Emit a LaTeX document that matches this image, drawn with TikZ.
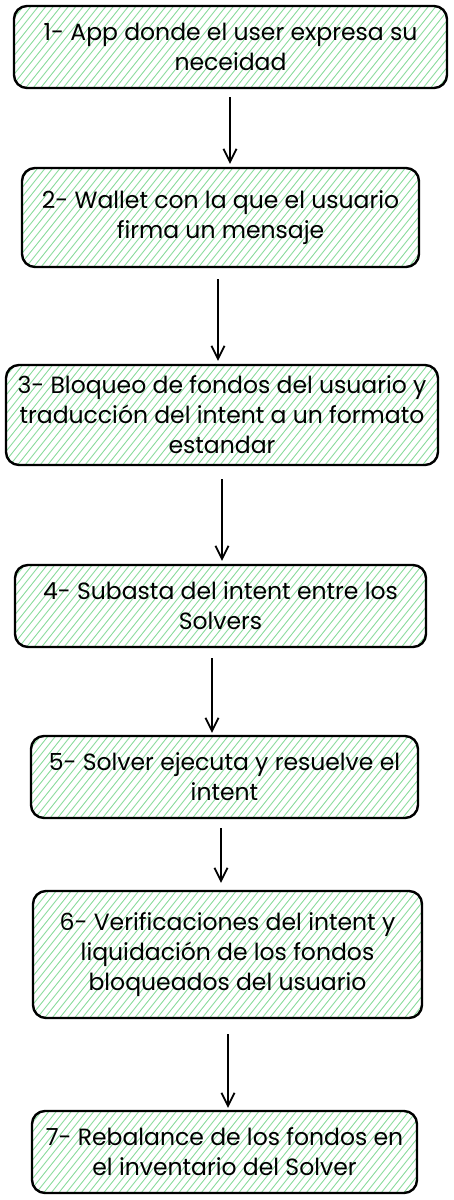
\documentclass[tikz,border=0pt]{standalone}
\usepackage{fontspec}
\setmainfont{Poppins}
\usetikzlibrary{arrows.meta,calc}
\definecolor{hatchgreen}{RGB}{140,220,158}
\tikzset{
  stepbox/.style={draw=black, line width=2.4pt, rounded corners=13pt, align=center,
    font=\fontsize{23.5}{30}\selectfont, inner sep=0pt,
    path picture={
      \foreach \i in {0,...,80}{
        \draw[hatchgreen, line width=0.9pt]
          ($(path picture bounding box.south west)+(-110pt+\i*7.5pt,-2pt)$) -- ++(112pt,140pt);
      }
    }},
  arr/.style={draw=black, line width=1.8pt, -{Straight Barb[length=13pt,width=13pt,line width=1.8pt]}}
}
\begin{document}
\begin{tikzpicture}[x=1pt,y=1pt]
\useasboundingbox (0,0) rectangle (454,-1200);
\node[stepbox, minimum width=433pt, minimum height=82pt] (b1) at (230.5,-47) {1- App donde el user expresa su\\neceidad};
\node[stepbox, minimum width=397pt, minimum height=99pt] (b2) at (220.5,-217.5) {2- Wallet con la que el usuario\\firma un mensaje};
\node[stepbox, minimum width=432pt, minimum height=100pt] (b3) at (222,-415) {3- Bloqueo de fondos del usuario y\\traducción del intent a un formato\\estandar};
\node[stepbox, minimum width=411pt, minimum height=82pt] (b4) at (220.5,-606) {4- Subasta del intent entre los\\Solvers};
\node[stepbox, minimum width=387pt, minimum height=82pt] (b5) at (224.5,-777) {5- Solver ejecuta y resuelve el\\intent};
\node[stepbox, minimum width=389pt, minimum height=127pt] (b6) at (227.5,-954.5) {6- Verificaciones del intent y\\liquidación de los fondos\\bloqueados del usuario};
\node[stepbox, minimum width=385pt, minimum height=82pt] (b7) at (224.5,-1152) {7- Rebalance de los fondos en\\el inventario del Solver};
\draw[arr] ([xshift=-0.5pt,yshift=-8pt]b1.south) -- ([xshift=9.5pt,yshift=3pt]b2.north);
\draw[arr] ([xshift=-2.5pt,yshift=-11pt]b2.south) -- ([xshift=-4pt,yshift=3pt]b3.north);
\draw[arr] ([xshift=0pt,yshift=-13pt]b3.south) -- ([xshift=1.5pt,yshift=3pt]b4.north);
\draw[arr] ([xshift=-8.5pt,yshift=-10pt]b4.south) -- ([xshift=-12.5pt,yshift=2pt]b5.north);
\draw[arr] ([xshift=-3.5pt,yshift=-9pt]b5.south) -- ([xshift=-6.5pt,yshift=7pt]b6.north);
\draw[arr] ([xshift=0.5pt,yshift=-15pt]b6.south) -- ([xshift=3.5pt,yshift=2pt]b7.north);
\end{tikzpicture}
\end{document}
